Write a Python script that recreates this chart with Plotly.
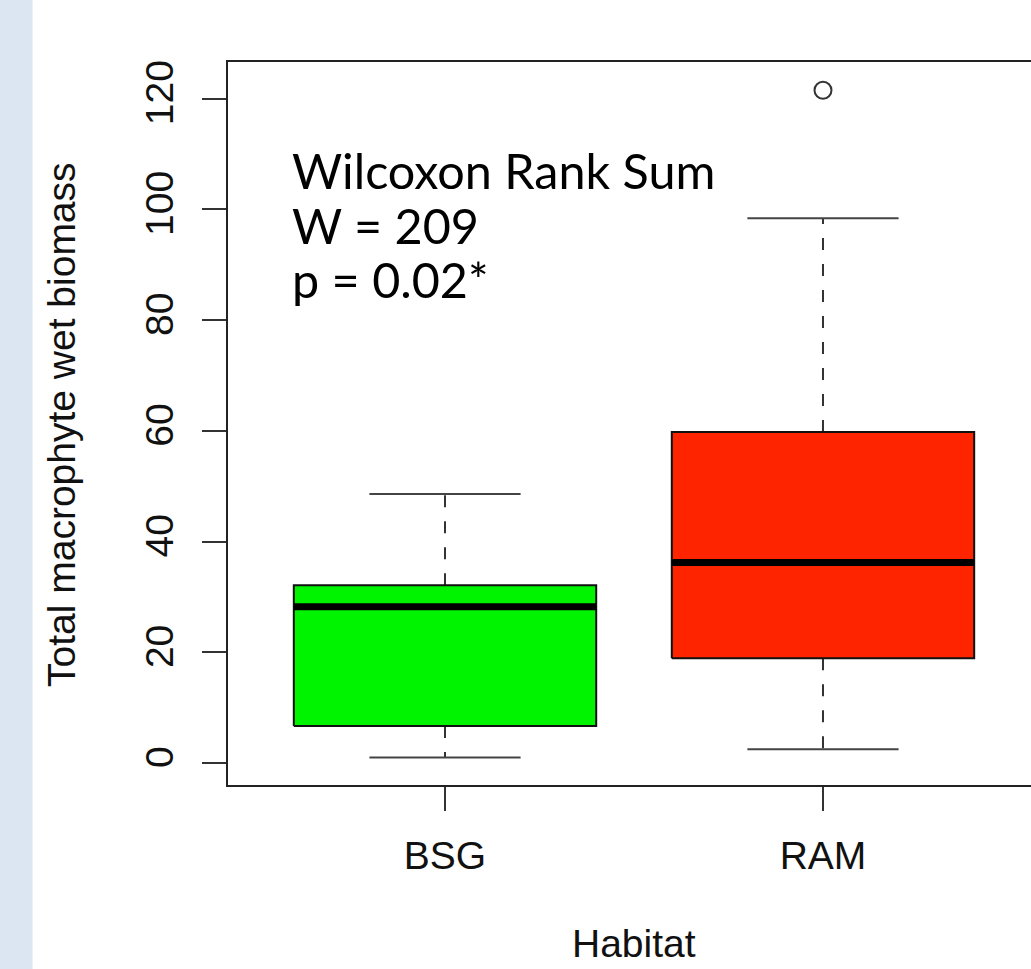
import plotly.graph_objects as go

# ---- data ----
categories = ["BSG", "RAM"]
positions = [1, 2]
lower_whisker = [1.0, 2.5]
q1 = [6.7, 18.9]
median = [28.2, 36.2]
q3 = [32.1, 59.8]
upper_whisker = [48.6, 98.4]
outlier_pos = [2]
outlier_val = [121.5]
fill_colors = ["#00F400", "#FF2400"]

y_ticks = [0, 20, 40, 60, 80, 100, 120]
stat_lines = ["Wilcoxon Rank Sum", "W = 209", "p = 0.02*"]

# ---- style ----
BOX_HW = 0.4
CAP_HW = 0.2
AX_FONT = "Arial, Liberation Sans, sans-serif"
TXT_FONT = "Lato, Open Sans, sans-serif"

fig = go.Figure()

for i, p in enumerate(positions):
    # dashed whiskers
    fig.add_trace(go.Scatter(
        x=[p, p, None, p, p], y=[q3[i], upper_whisker[i], None, q1[i], lower_whisker[i]],
        mode="lines", line=dict(color="#333333", width=2, dash="12px,14px"),
        hoverinfo="skip", showlegend=False))
    # caps
    fig.add_trace(go.Scatter(
        x=[p - CAP_HW, p + CAP_HW, None, p - CAP_HW, p + CAP_HW],
        y=[upper_whisker[i], upper_whisker[i], None, lower_whisker[i], lower_whisker[i]],
        mode="lines", line=dict(color="#444444", width=2),
        hoverinfo="skip", showlegend=False))
    # box
    fig.add_trace(go.Scatter(
        x=[p - BOX_HW, p + BOX_HW, p + BOX_HW, p - BOX_HW, p - BOX_HW],
        y=[q1[i], q1[i], q3[i], q3[i], q1[i]],
        mode="lines", fill="toself", fillcolor=fill_colors[i],
        line=dict(color="#111111", width=2),
        name=categories[i], showlegend=False))
    # median
    fig.add_trace(go.Scatter(
        x=[p - BOX_HW, p + BOX_HW], y=[median[i], median[i]],
        mode="lines", line=dict(color="#000000", width=7),
        hoverinfo="skip", showlegend=False))

fig.add_trace(go.Scatter(
    x=outlier_pos, y=outlier_val, mode="markers",
    marker=dict(symbol="circle-open", size=17, color="#333333", line=dict(width=2)),
    showlegend=False))

# left light-blue strip
fig.add_shape(type="rect", xref="paper", yref="paper",
              x0=(0 - 228) / 803, x1=(32.5 - 228) / 803, y0=-1, y1=2,
              fillcolor="#DCE6F2", line=dict(width=0), layer="below")

ann = []
line_y = [170, 225, 279]
for t, py in zip(stat_lines, line_y):
    ann.append(dict(text=t, xref="paper", yref="paper",
                    x=(290 - 228) / 803, y=(785 - py) / 723,
                    xanchor="left", yanchor="middle", showarrow=False,
                    font=dict(family=TXT_FONT, size=48.5, color="#000000")))
ann.append(dict(text="Habitat", xref="x", yref="paper", x=1.5, y=(785 - 943) / 723,
                xanchor="center", yanchor="middle", showarrow=False, borderpad=0,
                font=dict(family=AX_FONT, size=39, color="#111111")))
ann.append(dict(text="Total macrophyte wet biomass", xref="paper", yref="paper",
                x=(61 - 228) / 803, y=(785 - 425) / 723, textangle=-90,
                xanchor="center", yanchor="middle", showarrow=False,
                font=dict(family=AX_FONT, size=39, color="#111111")))

fig.update_layout(
    width=1031, height=969,
    margin=dict(l=228, r=0, t=62, b=184, pad=0),
    paper_bgcolor="white", plot_bgcolor="white",
    annotations=ann,
    xaxis=dict(range=[0.4259, 2.5503], tickvals=positions, ticktext=categories,
               showline=True, linecolor="#222222", linewidth=2, mirror=True,
               ticks="outside", ticklen=24, tickwidth=2, tickcolor="#333333",
               showgrid=False, zeroline=False, ticklabelstandoff=11,
               tickfont=dict(family=AX_FONT, size=39, color="#111111")),
    yaxis=dict(range=[-3.97, 126.6], tickvals=y_ticks,
               showline=True, linecolor="#222222", linewidth=2, mirror=False,
               ticks="outside", ticklen=24, tickwidth=2, tickcolor="#333333",
               showgrid=False, zeroline=False, tickangle=-90, ticklabelstandoff=13,
               tickfont=dict(family=AX_FONT, size=39, color="#111111")),
)

fig.write_html("out.html")
